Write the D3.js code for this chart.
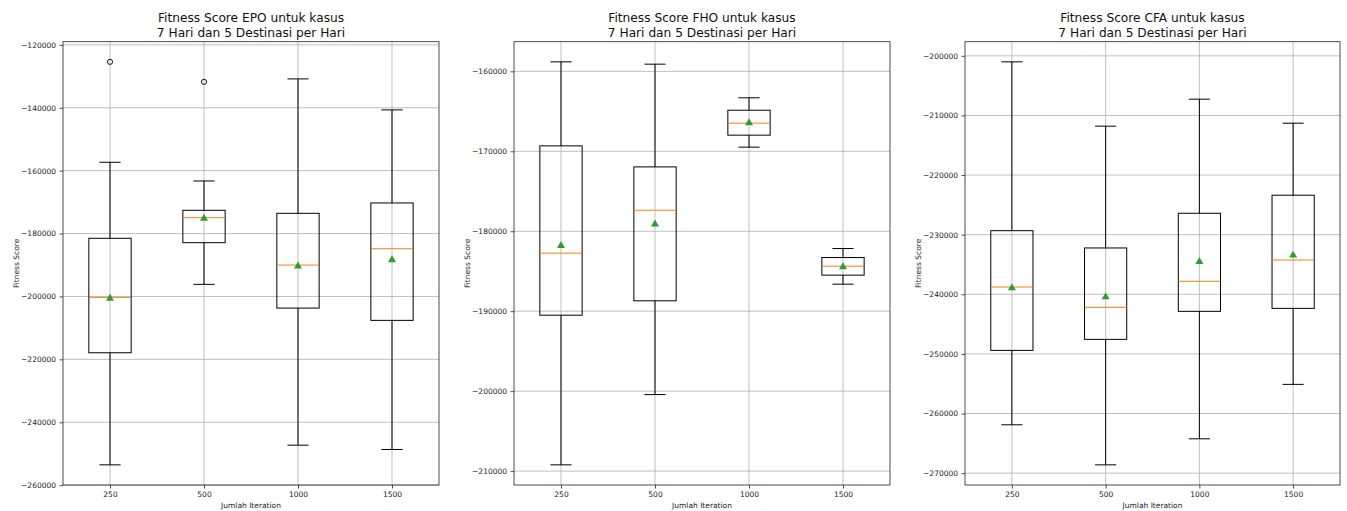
<!DOCTYPE html>
<html>
<head>
<meta charset="utf-8">
<script src="https://cdn.jsdelivr.net/npm/d3@7/dist/d3.min.js"></script>
<style>
  body { margin: 0; background: #fff; }
  svg { display: block; font-family: "DejaVu Sans", sans-serif; }
</style>
</head>
<body>
<div id="chart"></div>
<script>
// categories on the x axis
const iterations = ['250', '500', '1000', '1500'];

// EPO
const epoWhiskerLow  = [-253540, -196150, -247280, -248650];
const epoQ1          = [-217900, -182900, -203690, -207600];
const epoMedian      = [-200280, -174950, -190010, -184820];
const epoQ3          = [-181500, -172600, -173560, -170270];
const epoWhiskerHigh = [-157330, -163280, -130820, -140680];
const epoMean        = [-200600, -175200, -190350, -188410];
const epoOutliers    = [[-125400], [-131770], [], []];
const epoTicks = [-120000, -140000, -160000, -180000, -200000, -220000, -240000, -260000];

// FHO
const fhoWhiskerLow  = [-209220, -200430, -169480, -186620];
const fhoQ1          = [-190500, -188700, -167980, -185490];
const fhoMedian      = [-182740, -177370, -166480, -184370];
const fhoQ3          = [-169320, -171950, -164860, -183290];
const fhoWhiskerHigh = [-158810, -159100, -163310, -182160];
const fhoMean        = [-181790, -179110, -166450, -184450];
const fhoOutliers    = [[], [], [], []];
const fhoTicks = [-160000, -170000, -180000, -190000, -200000, -210000];

// CFA
const cfaWhiskerLow  = [-261890, -268610, -264240, -255110];
const cfaQ1          = [-249410, -247560, -242860, -242360];
const cfaMedian      = [-238780, -242190, -237820, -234250];
const cfaQ3          = [-229330, -232230, -226410, -223380];
const cfaWhiskerHigh = [-201010, -211800, -207270, -211300];
const cfaMean        = [-238950, -240460, -234530, -233460];
const cfaOutliers    = [[], [], [], []];
const cfaTicks = [-200000, -210000, -220000, -230000, -240000, -250000, -260000, -270000];

const panels = [
  { name: 'EPO', lo: epoWhiskerLow, q1: epoQ1, med: epoMedian, q3: epoQ3, hi: epoWhiskerHigh, mean: epoMean, out: epoOutliers, ticks: epoTicks, left: 63, right: 439 },
  { name: 'FHO', lo: fhoWhiskerLow, q1: fhoQ1, med: fhoMedian, q3: fhoQ3, hi: fhoWhiskerHigh, mean: fhoMean, out: fhoOutliers, ticks: fhoTicks, left: 514, right: 890 },
  { name: 'CFA', lo: cfaWhiskerLow, q1: cfaQ1, med: cfaMedian, q3: cfaQ3, hi: cfaWhiskerHigh, mean: cfaMean, out: cfaOutliers, ticks: cfaTicks, left: 965, right: 1340 }
];

const width = 1347, height = 511;
const plotTop = 41.7, plotBottom = 485;
const fmt = d => String(d).replace('-', '\u2212');

const svg = d3.select('#chart').append('svg')
  .attr('width', width)
  .attr('height', height);

svg.append('rect').attr('width', width).attr('height', height).attr('fill', '#fff');

panels.forEach(p => {
  const all = p.lo.concat(p.hi, p.out.flat());
  const dmin = d3.min(all), dmax = d3.max(all);
  const pad = (dmax - dmin) * 0.05;

  const x = d3.scalePoint()
    .domain(iterations)
    .range([p.left, p.right])
    .padding(0.5);
  const step = x.step();

  const y = d3.scaleLinear()
    .domain([dmin - pad, dmax + pad])
    .range([plotBottom, plotTop]);

  const g = svg.append('g');

  // grid
  g.append('g')
    .selectAll('line')
    .data(p.ticks)
    .enter().append('line')
    .attr('x1', p.left).attr('x2', p.right)
    .attr('y1', d => y(d)).attr('y2', d => y(d))
    .attr('stroke', '#b0b0b0').attr('stroke-width', 0.8);
  g.append('g')
    .selectAll('line')
    .data(iterations)
    .enter().append('line')
    .attr('x1', d => x(d)).attr('x2', d => x(d))
    .attr('y1', plotTop).attr('y2', plotBottom)
    .attr('stroke', '#b0b0b0').attr('stroke-width', 0.8);

  // axes
  const yAxis = g.append('g')
    .attr('transform', `translate(${p.left},0)`)
    .call(d3.axisLeft(y).tickValues(p.ticks).tickFormat(fmt).tickSize(3.5).tickPadding(3.5));
  const xAxis = g.append('g')
    .attr('transform', `translate(0,${plotBottom})`)
    .call(d3.axisBottom(x).tickSize(3.5).tickPadding(3.5));
  [yAxis, xAxis].forEach(a => {
    a.select('.domain').remove();
    a.selectAll('text').attr('font-size', '7.5px').attr('fill', '#222').attr('font-family', '"DejaVu Sans", sans-serif');
    a.selectAll('line').attr('stroke', '#222').attr('stroke-width', 0.8);
  });

  // frame
  g.append('rect')
    .attr('x', p.left).attr('y', plotTop)
    .attr('width', p.right - p.left).attr('height', plotBottom - plotTop)
    .attr('fill', 'none').attr('stroke', '#222').attr('stroke-width', 0.8);

  const boxW = step * 0.45;
  const capW = boxW / 2;

  const boxes = g.append('g').selectAll('g')
    .data(iterations)
    .enter().append('g');

  // whiskers
  boxes.append('line')
    .attr('x1', d => x(d)).attr('x2', d => x(d))
    .attr('y1', (d, i) => y(p.hi[i])).attr('y2', (d, i) => y(p.q3[i]))
    .attr('stroke', '#000').attr('stroke-width', 1);
  boxes.append('line')
    .attr('x1', d => x(d)).attr('x2', d => x(d))
    .attr('y1', (d, i) => y(p.q1[i])).attr('y2', (d, i) => y(p.lo[i]))
    .attr('stroke', '#000').attr('stroke-width', 1);
  // caps
  boxes.append('line')
    .attr('x1', d => x(d) - capW / 2).attr('x2', d => x(d) + capW / 2)
    .attr('y1', (d, i) => y(p.hi[i])).attr('y2', (d, i) => y(p.hi[i]))
    .attr('stroke', '#000').attr('stroke-width', 1);
  boxes.append('line')
    .attr('x1', d => x(d) - capW / 2).attr('x2', d => x(d) + capW / 2)
    .attr('y1', (d, i) => y(p.lo[i])).attr('y2', (d, i) => y(p.lo[i]))
    .attr('stroke', '#000').attr('stroke-width', 1);
  // box
  boxes.append('rect')
    .attr('x', d => x(d) - boxW / 2)
    .attr('width', boxW)
    .attr('y', (d, i) => y(p.q3[i]))
    .attr('height', (d, i) => y(p.q1[i]) - y(p.q3[i]))
    .attr('fill', 'none').attr('stroke', '#000').attr('stroke-width', 1);
  // median
  boxes.append('line')
    .attr('x1', d => x(d) - boxW / 2).attr('x2', d => x(d) + boxW / 2)
    .attr('y1', (d, i) => y(p.med[i])).attr('y2', (d, i) => y(p.med[i]))
    .attr('stroke', '#ff7f0e').attr('stroke-width', 1);
  // mean
  boxes.append('path')
    .attr('d', d3.symbol(d3.symbolTriangle, 28))
    .attr('transform', (d, i) => `translate(${x(d)},${y(p.mean[i])})`)
    .attr('fill', '#2ca02c');
  // outliers
  boxes.each(function (d, i) {
    d3.select(this).selectAll('circle')
      .data(p.out[i])
      .enter().append('circle')
      .attr('cx', x(d)).attr('cy', v => y(v))
      .attr('r', 2.6)
      .attr('fill', 'none').attr('stroke', '#000').attr('stroke-width', 0.9);
  });

  // title
  const cx = (p.left + p.right) / 2;
  const title = g.append('text')
    .attr('text-anchor', 'middle')
    .attr('font-size', '12.2px')
    .attr('fill', '#111');
  title.append('tspan').attr('x', cx).attr('y', 22).text(`Fitness Score ${p.name} untuk kasus`);
  title.append('tspan').attr('x', cx).attr('y', 36.5).text('7 Hari dan 5 Destinasi per Hari');

  // axis labels
  g.append('text')
    .attr('x', cx).attr('y', 508)
    .attr('text-anchor', 'middle')
    .attr('font-size', '7.5px').attr('fill', '#222')
    .text('Jumlah Iteration');
  g.append('text')
    .attr('transform', `translate(${p.left - 44},${(plotTop + plotBottom) / 2}) rotate(-90)`)
    .attr('text-anchor', 'middle')
    .attr('font-size', '7.5px').attr('fill', '#222')
    .text('Fitness Score');
});
</script>
</body>
</html>
